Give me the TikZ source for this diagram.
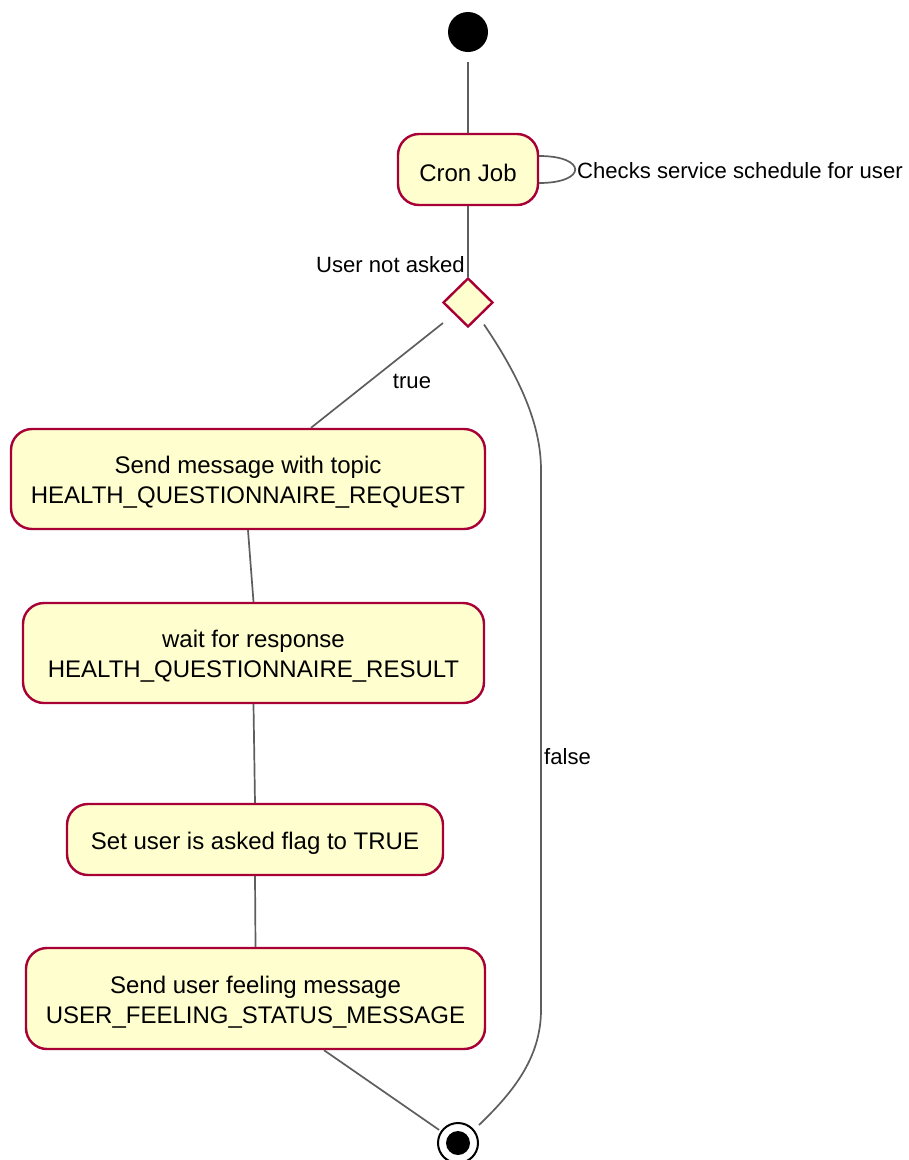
\documentclass[tikz,border=0pt]{standalone}
\usepackage{fontspec}
\setmainfont{Liberation Sans}
\usetikzlibrary{shapes.geometric}
\definecolor{statefill}{HTML}{FEFECE}
\definecolor{stateline}{HTML}{A80036}
\definecolor{flowline}{HTML}{5E5E5E}
\begin{document}
\begin{tikzpicture}[x=1pt,y=-1pt,
  statebox/.style={draw=stateline,fill=statefill,line width=2.4pt,rounded corners=21pt,inner sep=0pt},
  boxtext/.style={align=center,inner sep=0pt,yshift=-3.5pt,font=\fontsize{24}{30}\selectfont},
  choice/.style={diamond,draw=stateline,fill=statefill,line width=2.4pt,inner sep=0pt,
    minimum width=50pt,minimum height=49pt},
  flow/.style={draw=flowline,line width=1.7pt},
  lbl/.style={font=\fontsize{22.1}{27}\selectfont,inner sep=0pt}]
\useasboundingbox[fill=white] (0,0) rectangle (909,1160);

% start and end markers
\node[circle,fill=black,minimum size=40pt,inner sep=0pt] (start) at (468,32) {};
\node[circle,draw=black,fill=white,line width=2pt,minimum size=40pt,inner sep=0pt,outer sep=3pt] (stop) at (458,1143) {};
\fill[black] (stop.center) circle (12pt);

% states (text is set as a centred label, slightly below the geometric centre)
\node[statebox,minimum width=140pt,minimum height=71pt,
  label={[boxtext]center:Cron Job}] (cron) at (468,169.5) {};
\node[choice] (dec) at (468,302.5) {};
\node[statebox,minimum width=474pt,minimum height=100pt,
  label={[boxtext]center:Send message with topic\\HEALTH\_QUESTIONNAIRE\_REQUEST}] (req) at (248,479) {};
\node[statebox,minimum width=461pt,minimum height=100pt,
  label={[boxtext]center:wait for response\\HEALTH\_QUESTIONNAIRE\_RESULT}] (res) at (253.5,653) {};
\node[statebox,minimum width=376pt,minimum height=71pt,
  label={[boxtext]center:Set user is asked flag to TRUE}] (flag) at (255,839.5) {};
\node[statebox,minimum width=459pt,minimum height=101pt,
  label={[boxtext]center:Send user feeling message\\USER\_FEELING\_STATUS\_MESSAGE}] (feel) at (255.5,998.5) {};

% transitions
\draw[flow] ([yshift=-30]start.center) -- (cron.north);
\draw[flow] ([yshift=13.5]cron.east) .. controls +(48,0) and +(48,0) .. ([yshift=-13.5]cron.east);
\node[lbl,anchor=west] (loopl) at (577,171) {Checks service schedule for user};
\draw[flow] (cron.south) -- (dec.north);
\node[lbl,anchor=east] (askl) at (465,265) {User not asked};
\draw[flow] ([xshift=-25,yshift=-20.5]dec.center) -- ([xshift=63]req.north);
\node[lbl] (truel) at (412,381) {true};
\draw[flow] (req.south) -- (res.north);
\draw[flow] (res.south) -- (flag.north);
\draw[flow] (flag.south) -- (feel.north);
\draw[flow] ([xshift=68.5]feel.south) -- (stop);
\draw[flow] ([xshift=16,yshift=-22]dec.center) .. controls (525,385) and (541,430) .. (541,470)
  -- (541,1010) .. controls (541,1060) and (510,1095) .. ([xshift=21,yshift=18]stop.center);
\node[lbl,anchor=west] (falsel) at (544,757) {false};
\end{tikzpicture}
\end{document}
